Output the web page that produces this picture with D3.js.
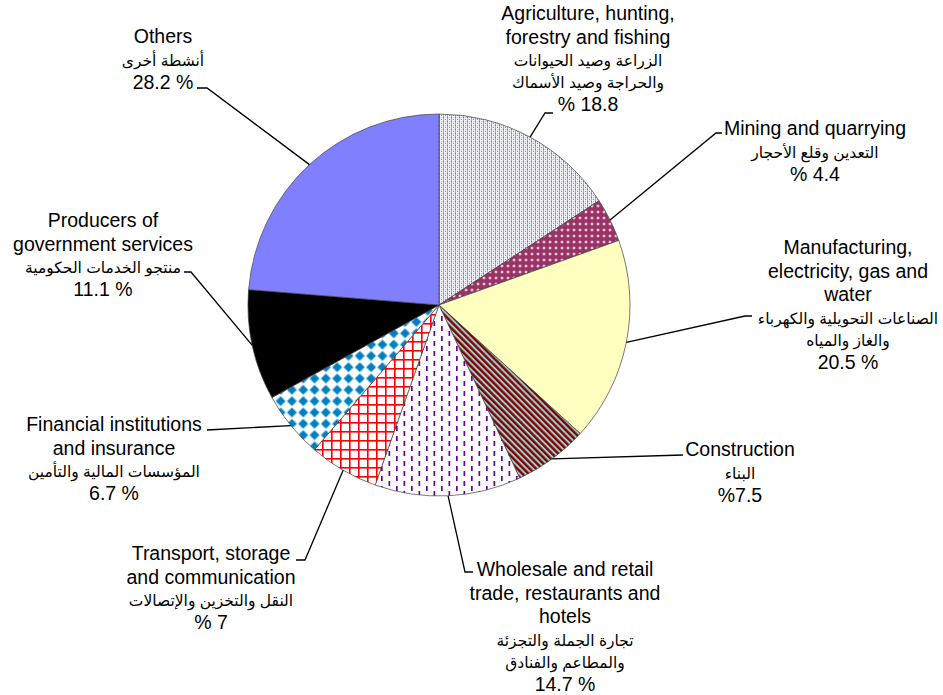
<!DOCTYPE html>
<html>
<head>
<meta charset="utf-8">
<script src="https://cdn.jsdelivr.net/npm/d3@7"></script>
<style>
  body { margin: 0; background: #ffffff; }
  svg text { font-family: "Liberation Sans", Arial, "DejaVu Sans", sans-serif; fill: #000; }
</style>
</head>
<body>
<script>
// chart data
var categories = [
    ["Agriculture, hunting,", "forestry and fishing"],
    ["Mining and quarrying"],
    ["Manufacturing,", "electricity, gas and", "water"],
    ["Construction"],
    ["Wholesale and retail", "trade, restaurants and", "hotels"],
    ["Transport, storage", "and communication"],
    ["Financial institutions", "and insurance"],
    ["Producers of", "government services"],
    ["Others"]
];
var arabicNames = [
    ["الزراعة وصيد الحيوانات", "والحراجة وصيد الأسماك"],
    ["التعدين وقلع الأحجار"],
    ["الصناعات التحويلية والكهرباء", "والغاز والمياه"],
    ["البناء"],
    ["تجارة الجملة والتجزئة", "والمطاعم والفنادق"],
    ["النقل والتخزين والإتصالات"],
    ["المؤسسات المالية والتأمين"],
    ["منتجو الخدمات الحكومية"],
    ["أنشطة أخرى"]
];
var values = [18.8, 4.4, 20.5, 7.5, 14.7, 7, 6.7, 11.1, 28.2];
// how the percent sign is written in each label
var pctStyle = ["before", "before", "after", "tight", "after", "before", "after", "after", "after"];

var fills = ["url(#pAgri)", "url(#pMining)", "#ffffc0", "url(#pConstr)", "url(#pTrade)",
             "url(#pTransport)", "url(#pFinance)", "#000000", "#8080ff"];

// label layout: text centre x, first baseline y, leader start and elbow
var labelPos = [
    {x: 588, y: 20,  sx: 553, sy: 113, ex: 545, ey: 113},
    {x: 815, y: 135, sx: 722, sy: 133, ex: 716, ey: 133},
    {x: 848, y: 254, sx: 752, sy: 316, ex: 745, ey: 316},
    {x: 740, y: 456, sx: 683, sy: 455, ex: 683, ey: 455},
    {x: 565, y: 576, sx: 473, sy: 572, ex: 465, ey: 572},
    {x: 211, y: 560, sx: 296, sy: 560, ex: 305, ey: 560},
    {x: 114, y: 431, sx: 207, sy: 430, ex: 207, ey: 430},
    {x: 103, y: 227, sx: 184, sy: 272, ex: 191, ey: 272},
    {x: 163, y: 43,  sx: 197, sy: 88,  ex: 207, ey: 88}
];

function pctText(v, style) {
    if (style === "before") return "% " + v;
    if (style === "tight") return "%" + v;
    return v + " %";
}

var width = 943, height = 695;
var cx = 439, cy = 305, radius = 191;

var svg = d3.select("body").append("svg")
    .attr("width", width)
    .attr("height", height);

// fill patterns
var defs = svg.append("defs");

var pa = defs.append("pattern").attr("id", "pAgri")
    .attr("patternUnits", "userSpaceOnUse").attr("width", 4).attr("height", 4);
pa.append("rect").attr("width", 4).attr("height", 4).attr("fill", "#ececff");
pa.append("rect").attr("x", 0).attr("width", 1).attr("height", 4).attr("fill", "#a0a0ff");
pa.append("rect").attr("x", 0).attr("y", 0).attr("width", 1).attr("height", 1).attr("fill", "#6666ff");
pa.append("rect").attr("x", 2).attr("y", 2).attr("width", 1).attr("height", 1).attr("fill", "#8080ff");
pa.append("rect").attr("x", 2).attr("y", 0).attr("width", 1).attr("height", 1).attr("fill", "#c0c0ff");
pa.append("rect").attr("x", 3).attr("y", 1).attr("width", 1).attr("height", 1).attr("fill", "#ffffff");
pa.append("rect").attr("x", 1).attr("y", 3).attr("width", 1).attr("height", 1).attr("fill", "#ffffff");

var pm = defs.append("pattern").attr("id", "pMining")
    .attr("patternUnits", "userSpaceOnUse").attr("width", 6).attr("height", 6);
pm.append("rect").attr("width", 6).attr("height", 6).attr("fill", "#993366");
pm.append("path").attr("d", "M3 1.2 L4.8 3 L3 4.8 L1.2 3Z").attr("fill", "#e6c6d6");

var pc = defs.append("pattern").attr("id", "pConstr")
    .attr("patternUnits", "userSpaceOnUse").attr("width", 4.4).attr("height", 4.4)
    .attr("patternTransform", "rotate(-45)");
pc.append("rect").attr("width", 4.4).attr("height", 4.4).attr("fill", "#99cccc");
pc.append("rect").attr("width", 2.4).attr("height", 4.4).attr("fill", "#800000");

var pt = defs.append("pattern").attr("id", "pTrade")
    .attr("patternUnits", "userSpaceOnUse").attr("width", 15).attr("height", 10);
pt.append("rect").attr("width", 15).attr("height", 10).attr("fill", "#ffffff");
pt.append("rect").attr("x", 2).attr("y", 1).attr("width", 1.7).attr("height", 5).attr("fill", "#660099");
pt.append("rect").attr("x", 9.5).attr("y", 6).attr("width", 1.7).attr("height", 5).attr("fill", "#660099");
pt.append("rect").attr("x", 9.5).attr("y", -4).attr("width", 1.7).attr("height", 5).attr("fill", "#660099");

var pr = defs.append("pattern").attr("id", "pTransport")
    .attr("patternUnits", "userSpaceOnUse").attr("width", 9).attr("height", 9);
pr.append("rect").attr("width", 9).attr("height", 9).attr("fill", "#ffffff");
pr.append("rect").attr("width", 9).attr("height", 1.6).attr("fill", "#ff0000");
pr.append("rect").attr("width", 1.6).attr("height", 9).attr("fill", "#ff0000");

var pf = defs.append("pattern").attr("id", "pFinance")
    .attr("patternUnits", "userSpaceOnUse").attr("width", 16).attr("height", 16)
    .attr("patternTransform", "rotate(45)");
pf.append("rect").attr("width", 16).attr("height", 16).attr("fill", "#ffffff");
pf.append("rect").attr("x", 0.5).attr("y", 0.5).attr("width", 7).attr("height", 7).attr("fill", "#0080c0");
pf.append("rect").attr("x", 8.5).attr("y", 8.5).attr("width", 7).attr("height", 7).attr("fill", "#0080c0");

// pie slices
var pie = d3.pie().sort(null).value(function(d) { return d; });
var arcs = pie(values);

var arc = d3.arc().innerRadius(0).outerRadius(radius);

var g = svg.append("g").attr("transform", "translate(" + cx + "," + cy + ")");

g.selectAll("path.slice")
    .data(arcs)
    .enter().append("path")
    .attr("class", "slice")
    .attr("d", arc)
    .attr("fill", function(d, i) { return fills[i]; })
    .attr("stroke", "#404040")
    .attr("stroke-width", 0.7);

// leader lines from the label to the middle of each slice edge
arcs.forEach(function(d, i) {
    var mid = (d.startAngle + d.endAngle) / 2;
    var px = cx + radius * Math.sin(mid);
    var py = cy - radius * Math.cos(mid);
    var p = labelPos[i];
    svg.append("polyline")
        .attr("points", [[p.sx, p.sy], [p.ex, p.ey], [px, py]].map(function(q) { return q.join(","); }).join(" "))
        .attr("fill", "none")
        .attr("stroke", "#000")
        .attr("stroke-width", 1.3);
});

// labels
categories.forEach(function(lines, i) {
    var p = labelPos[i];
    var y = p.y;
    lines.forEach(function(t) {
        svg.append("text")
            .text(t)
            .attr("x", p.x).attr("y", y)
            .attr("font-size", 19.5)
            .attr("text-anchor", "middle");
        y += 23.5;
    });
    arabicNames[i].forEach(function(t) {
        svg.append("text")
            .text(t)
            .attr("x", p.x).attr("y", y - 1)
            .attr("font-size", 15.5)
            .attr("direction", "rtl")
            .attr("text-anchor", "middle");
        y += 22;
    });
    svg.append("text")
        .text(pctText(values[i], pctStyle[i]))
        .attr("x", p.x).attr("y", y)
        .attr("font-size", 19.5)
        .attr("text-anchor", "middle");
});
</script>
</body>
</html>
